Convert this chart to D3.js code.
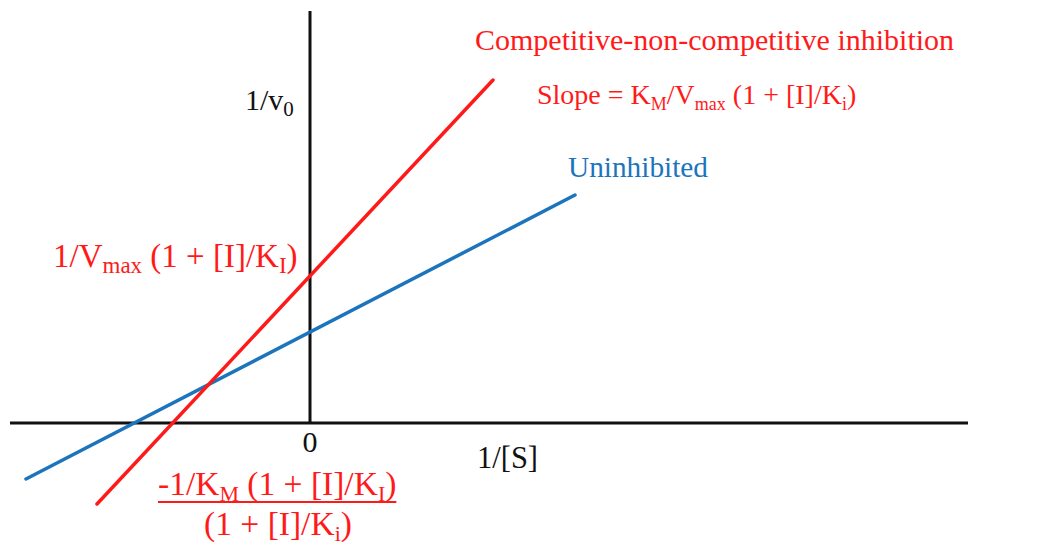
<!DOCTYPE html>
<html>
<head>
<meta charset="utf-8">
<script src="https://cdn.jsdelivr.net/npm/d3@7"></script>
<style>
  body { margin: 0; background: #fff; }
  text { font-family: "Liberation Serif", "Times New Roman", serif; }
</style>
</head>
<body>
<script>
// Chart size
const width = 1047;
const height = 545;

// Data: 1/[S] and 1/v0 at the ends of each line
const uninhibitedX = [-2.84, 2.65];
const uninhibitedY = [-0.56, 2.28];
const inhibitedX = [-2.13, 1.83];
const inhibitedY = [-0.81, 3.43];

// Axis extents
const xAxisExtent = [-3, 6.58];
const yAxisExtent = [0, 4.12];
const zeroLabel = "0";

const red = "#ff1a1a";
const blue = "#1c75bc";

const svg = d3.select("body")
  .append("svg")
  .attr("width", width)
  .attr("height", height);

// Scales
const xScale = d3.scaleLinear()
  .domain([-3, 6.58])
  .range([10, 968]);

const yScale = d3.scaleLinear()
  .domain([-1.22, 4.13])
  .range([545, 10]);

// Axes
svg.append("line")
  .attr("x1", xScale(xAxisExtent[0]))
  .attr("x2", xScale(xAxisExtent[1]))
  .attr("y1", yScale(0))
  .attr("y2", yScale(0))
  .attr("stroke", "#111")
  .attr("stroke-width", 3);

svg.append("line")
  .attr("x1", xScale(0))
  .attr("x2", xScale(0))
  .attr("y1", yScale(yAxisExtent[0]))
  .attr("y2", yScale(yAxisExtent[1]))
  .attr("stroke", "#111")
  .attr("stroke-width", 3);

// Lines
const line = d3.line()
  .x(d => xScale(d[0]))
  .y(d => yScale(d[1]));

svg.append("path")
  .datum(d3.zip(uninhibitedX, uninhibitedY))
  .attr("d", line)
  .attr("fill", "none")
  .attr("stroke", blue)
  .attr("stroke-width", 3.5)
  .attr("stroke-linecap", "round");

svg.append("path")
  .datum(d3.zip(inhibitedX, inhibitedY))
  .attr("d", line)
  .attr("fill", "none")
  .attr("stroke", red)
  .attr("stroke-width", 3.5)
  .attr("stroke-linecap", "round");

// Labels with subscripts: parts are [text, isSub]
function label(x, y, parts, color, size, subSize, anchor) {
  const t = svg.append("text")
    .attr("x", x)
    .attr("y", y)
    .attr("fill", color)
    .attr("font-size", size)
    .attr("text-anchor", anchor || "start");
  let sub = false;
  parts.forEach(p => {
    const dy = p[1] && !sub ? 6 : (!p[1] && sub ? -6 : 0);
    t.append("tspan")
      .attr("dy", dy)
      .attr("font-size", p[1] ? subSize : size)
      .text(p[0]);
    sub = p[1];
  });
  return t;
}

label(475, 50, [["Competitive-non-competitive inhibition", false]], red, 30, 20);
label(537, 104, [["Slope = K", false], ["M", true], ["/V", false], ["max", true], [" (1 + [I]/K", false], ["i", true], [")", false]], red, 28, 18);
label(568, 177, [["Uninhibited", false]], blue, 29.3, 20);

label(245, 110, [["1/v", false], ["0", true]], "#111", 30, 21);
label(53, 267, [["1/V", false], ["max", true], [" (1 + [I]/K", false], ["I", true], [")", false]], red, 33, 23);

svg.append("text")
  .attr("x", xScale(0))
  .attr("y", 452)
  .attr("font-size", 30)
  .attr("text-anchor", "middle")
  .attr("fill", "#111")
  .text(zeroLabel);

label(477, 468, [["1/[S]", false]], "#111", 30.5, 20);

const num = label(158, 495, [["-1/K", false], ["M", true], [" (1 + [I]/K", false], ["I", true], [")", false]], red, 33.5, 22);
const nb = num.node().getBBox();
svg.append("line")
  .attr("x1", nb.x)
  .attr("x2", nb.x + nb.width)
  .attr("y1", 502)
  .attr("y2", 502)
  .attr("stroke", red)
  .attr("stroke-width", 2);

label(278, 535, [["(1 + [I]/K", false], ["i", true], [")", false]], red, 33.5, 22, "middle");
</script>
</body>
</html>
